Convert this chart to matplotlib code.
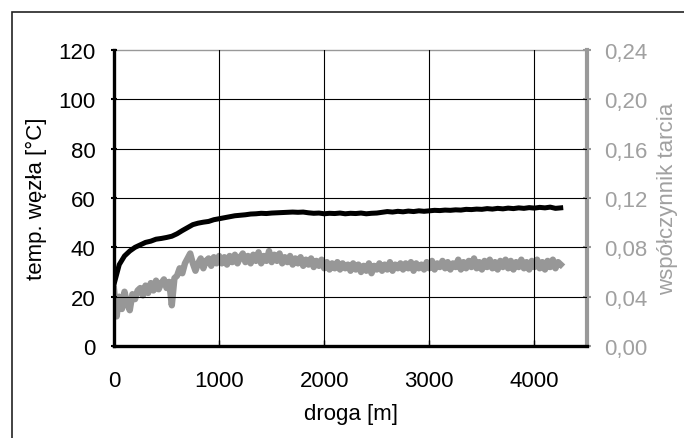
import numpy as np
import matplotlib as mpl
mpl.use('Agg')
import matplotlib.pyplot as plt
from matplotlib.patches import Rectangle

plt.rcParams['font.family'] = ['Liberation Sans', 'DejaVu Sans']
plt.rcParams['font.size'] = 16

# temperature of the joint [°C], read every 50 m
droga_t = np.arange(0, 4251, 50)
temp = [25, 33, 36.5, 38.5, 40, 41, 42, 42.5, 43.3, 43.6,
        44, 44.5, 45.5, 46.8, 48, 49.2, 49.8, 50.2, 50.5, 51.2,
        51.6, 52, 52.4, 52.8, 53, 53.2, 53.5, 53.6, 53.8, 53.7,
        53.9, 54, 54.1, 54.2, 54.3, 54.2, 54.3, 54, 53.8, 53.9,
        53.6, 53.8, 53.7, 53.9, 53.6, 53.8, 53.7, 53.9, 53.6, 53.8,
        53.9, 54.2, 54.5, 54.3, 54.6, 54.4, 54.7, 54.5, 54.8, 54.6,
        54.8, 55, 54.9, 55.1, 55, 55.2, 55.1, 55.4, 55.3, 55.5,
        55.4, 55.7, 55.5, 55.8, 55.6, 55.9, 55.7, 56, 55.8, 56.1,
        55.9, 56.2, 56, 56.3, 55.8, 56]

# friction coefficient, read every 25 m
droga_f = np.arange(0, 4251, 25)
tarcie = [0.046, 0.024, 0.040, 0.030, 0.044, 0.034, 0.029, 0.042, 0.038, 0.045,
          0.047, 0.041, 0.049, 0.043, 0.051, 0.045, 0.053, 0.046, 0.051, 0.054,
          0.047, 0.052, 0.033, 0.055, 0.057, 0.063, 0.059, 0.067, 0.071, 0.075,
          0.067, 0.061, 0.067, 0.071, 0.063, 0.069, 0.071, 0.065, 0.072, 0.067,
          0.073, 0.067, 0.072, 0.066, 0.073, 0.068, 0.074, 0.067, 0.072, 0.075,
          0.068, 0.073, 0.067, 0.074, 0.069, 0.076, 0.067, 0.073, 0.069, 0.077,
          0.068, 0.074, 0.069, 0.075, 0.067, 0.072, 0.068, 0.073, 0.066, 0.071,
          0.067, 0.072, 0.065, 0.070, 0.066, 0.071, 0.064, 0.069, 0.065, 0.070,
          0.063, 0.068, 0.062, 0.067, 0.063, 0.068, 0.062, 0.067, 0.063, 0.066,
          0.061, 0.067, 0.062, 0.066, 0.060, 0.065, 0.061, 0.067, 0.059, 0.065,
          0.062, 0.067, 0.061, 0.066, 0.062, 0.068, 0.061, 0.066, 0.063, 0.067,
          0.062, 0.067, 0.063, 0.068, 0.061, 0.067, 0.063, 0.066, 0.062, 0.068,
          0.063, 0.069, 0.062, 0.067, 0.064, 0.069, 0.063, 0.068, 0.062, 0.067,
          0.064, 0.070, 0.062, 0.068, 0.063, 0.069, 0.064, 0.071, 0.063, 0.068,
          0.062, 0.069, 0.064, 0.070, 0.063, 0.068, 0.062, 0.069, 0.064, 0.070,
          0.063, 0.069, 0.062, 0.068, 0.064, 0.070, 0.063, 0.068, 0.062, 0.069,
          0.064, 0.070, 0.063, 0.068, 0.062, 0.069, 0.064, 0.070, 0.063, 0.068,
          0.066]

xticks = [0, 1000, 2000, 3000, 4000]
yticks_l = [0, 20, 40, 60, 80, 100, 120]
yticks_r = [0.0, 0.04, 0.08, 0.12, 0.16, 0.20, 0.24]

gray = '#999999'
gray_txt = '#a0a0a0'

fig = plt.figure(figsize=(6.84, 4.39), dpi=100)
fig.patches.append(Rectangle((12 / 684, -0.1), 1.2, 1 - 13 / 439 + 0.1,
                             transform=fig.transFigure, fill=False,
                             edgecolor='#222222', lw=1.2))

ax = fig.add_axes([114 / 684, 1 - 347 / 439, (587 - 114) / 684, (347 - 51) / 439])
ax2 = ax.twinx()

ax2.plot(droga_f, tarcie, color='#979797', lw=4.6, solid_joinstyle='round', zorder=3)
ax.plot(droga_t, temp, color='black', lw=3.6, zorder=4)

ax.set_xlim(0, 4500)
ax.set_ylim(0, 120)
ax2.set_ylim(0, 0.24)
ax.set_xticks(xticks)
ax.set_yticks(yticks_l)
ax2.set_yticks(yticks_r)
ax2.set_yticklabels([('%.2f' % v).replace('.', ',') for v in yticks_r])

for y in yticks_l[1:-1]:
    ax.axhline(y, color='black', lw=0.8, zorder=1)
for x in xticks[1:]:
    ax.axvline(x, color='black', lw=0.8, zorder=1)

ax.set_zorder(ax2.get_zorder() + 1)
ax.patch.set_visible(False)

for s in ['left', 'bottom']:
    ax.spines[s].set_linewidth(2.4)
    ax.spines[s].set_color('black')
ax.spines['right'].set_visible(False)
ax.spines['top'].set_visible(False)
ax2.spines['left'].set_visible(False)
ax2.spines['bottom'].set_visible(False)
ax2.spines['right'].set_linewidth(3.0)
ax2.spines['right'].set_color(gray)
ax2.spines['top'].set_linewidth(1.0)
ax2.spines['top'].set_color(gray)

ax.tick_params(axis='y', direction='inout', length=5, width=1.5, pad=11, colors='black')
ax.tick_params(axis='x', direction='in', length=4, width=1.0, pad=17, colors='black')
ax2.tick_params(axis='y', direction='inout', length=6, width=1.5, pad=9,
                color=gray, labelcolor=gray_txt)

ax.set_xlabel('droga [m]', labelpad=9)
ax.set_ylabel('temp. węzła [°C]', labelpad=8)
ax2.set_ylabel('współczynnik tarcia', color=gray_txt, labelpad=7)

fig.savefig('out.png', dpi=100)
